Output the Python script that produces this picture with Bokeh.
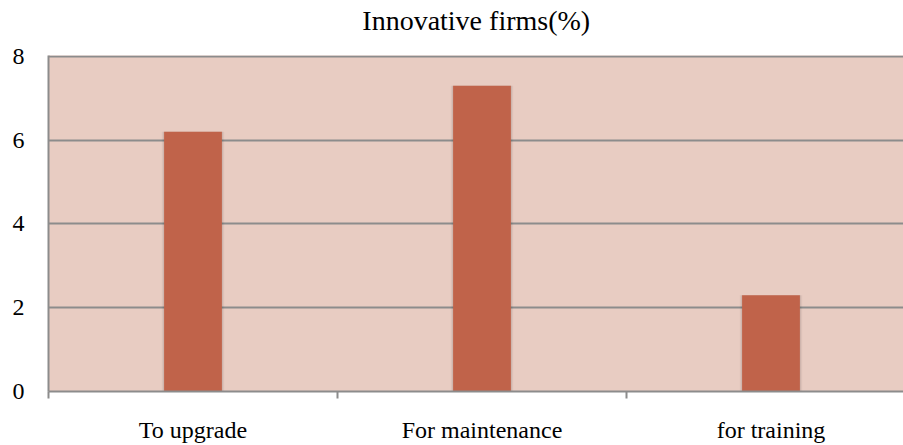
from bokeh.plotting import figure
from bokeh.models import Range1d, FixedTicker, ColumnDataSource, LinearAxis
from bokeh.embed import file_html
from bokeh.resources import INLINE

# Share of innovative firms by purpose (%)
title_text = "Innovative firms(%)"
categories = ["To upgrade", "For maintenance", "for training"]
values = [6.2, 7.3, 2.3]
y_ticks = [0, 2, 4, 6, 8]

SERIF = "Liberation Serif"
BG = "#E8CCC2"
BAR = "#C0634A"
GRID = "#8C8C8C"

X_END = 855 / 289      # frame shows a little less than three categories
Y_END = 337 / 42       # 8 plus room for the top gridline
TITLE_X = 1.48         # horizontal centre of the frame

centers = [i + 0.5 for i in range(len(categories))]
source = ColumnDataSource(dict(x=centers, top=values, label=categories))

p = figure(
    width=903, height=445,
    x_range=Range1d(0, X_END),
    y_range=Range1d(0, Y_END),
    output_backend="svg", toolbar_location=None,
    min_border_left=48, min_border_right=0,
    min_border_top=55, min_border_bottom=53,
)

p.background_fill_color = BG
p.border_fill_color = "white"
p.outline_line_color = None

# soft shadow behind each bar
p.vbar(x="x", top="top", width=0.2 + 0.016, bottom=0, source=source,
       fill_color="black", fill_alpha=0.05, line_color=None)
p.vbar(x="x", top="top", width=0.2 + 0.008, bottom=0, source=source,
       fill_color="black", fill_alpha=0.06, line_color=None)
p.vbar(x="x", top="top", width=0.2, bottom=0, source=source,
       fill_color=BAR, line_color=None)

# chart title, drawn as the single label of a bare axis above the frame
title_axis = LinearAxis(
    ticker=FixedTicker(ticks=[TITLE_X], minor_ticks=[]),
    major_label_overrides={TITLE_X: title_text},
    axis_line_color=None,
    major_tick_line_color=None,
    minor_tick_line_color=None,
    major_tick_out=0, major_tick_in=0,
    major_label_standoff=20,
    major_label_text_font=SERIF,
    major_label_text_font_size="28px",
    major_label_text_color="black",
)
p.add_layout(title_axis, "above")

# grid
p.xgrid.visible = False
p.ygrid.ticker = FixedTicker(ticks=y_ticks)
p.ygrid.grid_line_color = GRID
p.ygrid.grid_line_width = 2

# y axis
p.yaxis.ticker = FixedTicker(ticks=y_ticks)
p.yaxis.axis_line_color = GRID
p.yaxis.axis_line_width = 2
p.yaxis.major_tick_line_color = None
p.yaxis.minor_tick_line_color = None
p.yaxis.major_tick_out = 0
p.yaxis.major_tick_in = 0
p.yaxis.major_label_standoff = 24
p.yaxis.major_label_text_font = SERIF
p.yaxis.major_label_text_font_size = "24px"
p.yaxis.major_label_text_color = "black"

# x axis: labels at category centers, tick marks at category boundaries
xaxis = p.below[0]
xaxis.ticker = FixedTicker(ticks=centers,
                           minor_ticks=list(range(len(categories) + 1)))
xaxis.major_label_overrides = {c: lab for c, lab in zip(centers, categories)}
xaxis.axis_line_color = GRID
xaxis.axis_line_width = 2
xaxis.major_tick_line_color = None
xaxis.major_tick_out = 0
xaxis.major_tick_in = 0
xaxis.minor_tick_line_color = GRID
xaxis.minor_tick_line_width = 2
xaxis.minor_tick_out = 7
xaxis.minor_tick_in = 0
xaxis.major_label_standoff = 18
xaxis.major_label_text_font = SERIF
xaxis.major_label_text_font_size = "24px"
xaxis.major_label_text_color = "black"

open("out.html", "w").write(file_html(p, INLINE))
